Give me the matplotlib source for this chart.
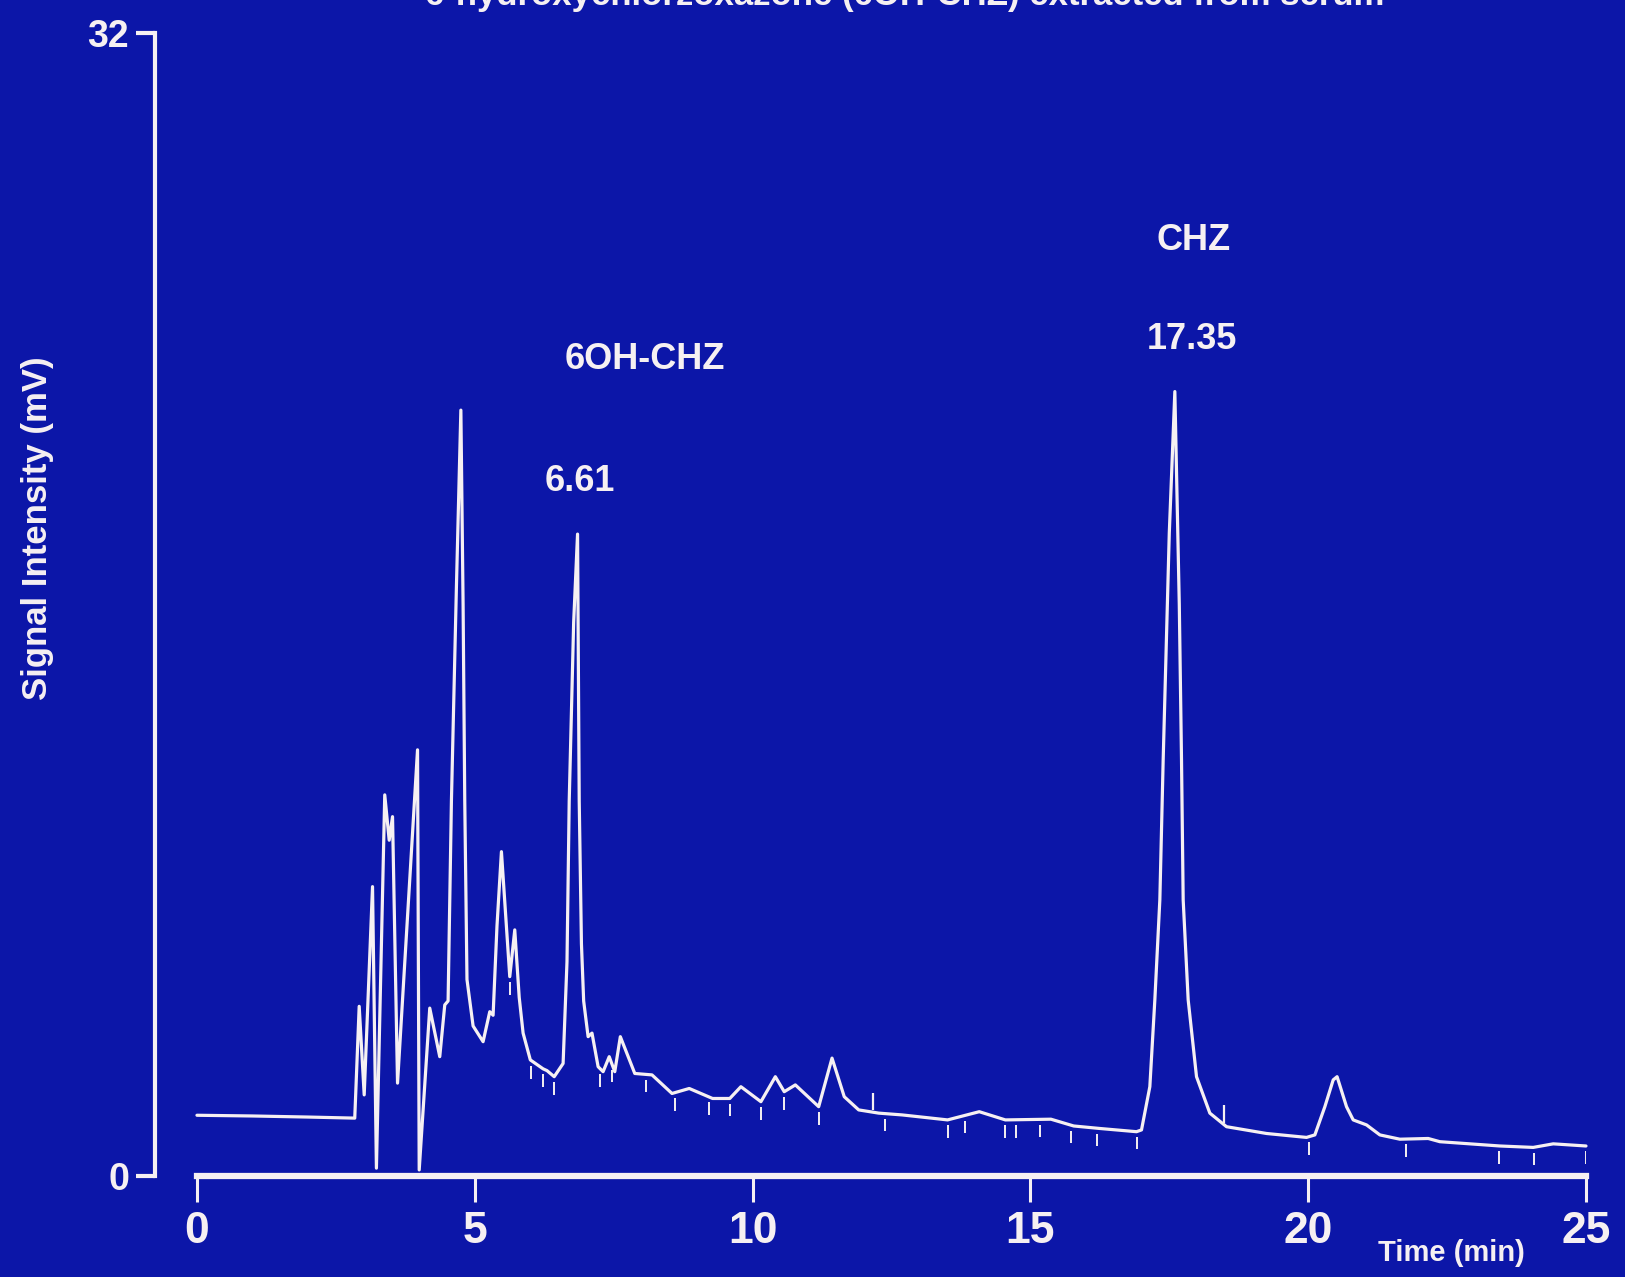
import numpy as np
import matplotlib
matplotlib.use("Agg")
import matplotlib.pyplot as plt

# chromatogram (time in min, signal in mV)
temps = [0.0, 1.0, 2.0, 2.84, 2.92, 3.01, 3.16, 3.23, 3.38, 3.46, 3.52, 3.61,
         3.97, 4.00, 4.19, 4.37, 4.46, 4.52, 4.58, 4.67, 4.75, 4.79, 4.82, 4.86,
         4.97, 5.15, 5.27, 5.33, 5.40, 5.48, 5.63, 5.72, 5.80, 5.87, 6.00, 6.23,
         6.30, 6.43, 6.59, 6.66, 6.70, 6.78, 6.85, 6.88, 6.92, 6.96, 7.04, 7.11,
         7.22, 7.31, 7.42, 7.52, 7.62, 7.88, 8.19, 8.55, 8.86, 9.28, 9.59, 9.79,
         10.15, 10.41, 10.57, 10.77, 11.19, 11.43, 11.65, 11.91, 12.27, 12.69,
         13.51, 14.08, 14.55, 15.37, 15.78, 16.25, 16.91, 17.00, 17.15, 17.24,
         17.33, 17.39, 17.50, 17.60, 17.68, 17.72, 17.75, 17.84, 17.99, 18.23,
         18.53, 19.25, 19.97, 20.12, 20.30, 20.45, 20.52, 20.69, 20.81, 21.05,
         21.29, 21.65, 22.16, 22.37, 23.45, 24.05, 24.41, 25.0]
signal = [1.70, 1.68, 1.65, 1.62, 4.75, 2.27, 8.10, 0.22, 10.67, 9.40, 10.06, 2.60,
          11.93, 0.17, 4.70, 3.34, 4.79, 4.90, 10.5, 16.5, 21.44, 16.0, 10.5, 5.5,
          4.20, 3.76, 4.60, 4.50, 7.00, 9.08, 5.58, 6.89, 5.00, 4.00, 3.25, 3.00,
          2.95, 2.78, 3.15, 6.00, 10.5, 15.5, 17.97, 10.5, 6.50, 4.90, 3.90, 4.00,
          3.06, 2.92, 3.34, 2.92, 3.90, 2.87, 2.83, 2.31, 2.45, 2.17, 2.17, 2.50,
          2.08, 2.78, 2.36, 2.55, 1.94, 3.30, 2.22, 1.85, 1.76, 1.71,
          1.57, 1.80, 1.57, 1.59, 1.40, 1.33, 1.24, 1.29, 2.50, 4.93,
          7.73, 11.65, 18.0, 21.96, 16.0, 11.65, 7.73, 4.93, 2.78, 1.76,
          1.38, 1.19, 1.08, 1.15, 1.94, 2.69, 2.78, 1.94, 1.57, 1.43,
          1.15, 1.03, 1.05, 0.96, 0.84, 0.80, 0.90, 0.84]

# integration marks of the integrator
marques_bas = [5.63, 6.02, 6.23, 6.43, 7.26, 7.47, 8.09, 8.60, 9.22, 9.59, 10.15,
               10.57, 11.19, 12.38, 13.51, 13.82, 14.55, 14.75, 15.17, 15.73,
               16.20, 16.92, 20.01, 21.76, 23.43, 24.07, 25.0]
marques_haut = [12.17, 18.49]

pics = [("6OH-CHZ", 8.06, 22.87), ("6.61", 6.89, 19.43),
        ("CHZ", 17.93, 26.2), ("17.35", 17.91, 23.43)]

bleu = "#0c16a8"
blanc = "#f6f0f2"
police = ["Liberation Sans", "DejaVu Sans"]
plt.rcParams["font.family"] = police
plt.rcParams["font.weight"] = "bold"

fig = plt.figure(figsize=(16.25, 12.77), dpi=100, facecolor=bleu)
ax = fig.add_axes([0.1212, 0.0791, 0.8548, 0.8951], facecolor=bleu)

ax.plot(temps, signal, color=blanc, lw=2.3, clip_on=False,
        solid_joinstyle="round", solid_capstyle="round")

t = np.array(temps)
s = np.array(signal)
yb = np.interp(marques_bas, t, s)
ax.vlines(marques_bas, yb - 0.5, yb - 0.15, color=blanc, lw=1.4)
yh = np.interp(marques_haut, t, s)
ax.vlines(marques_haut, yh + 0.05, yh + 0.55, color=blanc, lw=1.6)

for txt, x, y in pics:
    ax.text(x, y, txt, color=blanc, fontsize=26, fontweight="bold",
            ha="center", va="center")

ax.set_xlim(0, 25)
ax.set_ylim(0, 32)
ax.set_xticks([0, 5, 10, 15, 20, 25])
ax.set_yticks([0, 32])

for side in ["top", "right"]:
    ax.spines[side].set_visible(False)
ax.spines["left"].set_position(("outward", 30))
ax.spines["left"].set_color(blanc)
ax.spines["left"].set_linewidth(3)
ax.spines["bottom"].set_color(blanc)
ax.spines["bottom"].set_linewidth(4.5)

ax.tick_params(axis="x", direction="out", length=19, width=2.2, color=blanc,
               pad=6, labelcolor=blanc, labelsize=32)
ax.tick_params(axis="y", direction="out", length=14, width=3, color=blanc,
               pad=5, labelcolor=blanc, labelsize=27)

fig.text(38 / 1625, 1 - 528 / 1277, "Signal Intensity (mV)", color=blanc,
         fontsize=25, fontweight="bold", rotation=90, ha="center", va="center")

fig.text(1451 / 1625, 1 - 1253 / 1277, "Time (min)", color=blanc, fontsize=21,
         fontweight="bold", ha="center", va="center")

# title cut off by the top of the slide
fig.text(0.557, 1 - 5 / 1277, "6-hydroxychlorzoxazone (6OH-CHZ) extracted from serum",
         color=blanc, fontsize=25, fontweight="bold", ha="center", va="baseline")

fig.savefig("out.png", dpi=100, facecolor=bleu)
